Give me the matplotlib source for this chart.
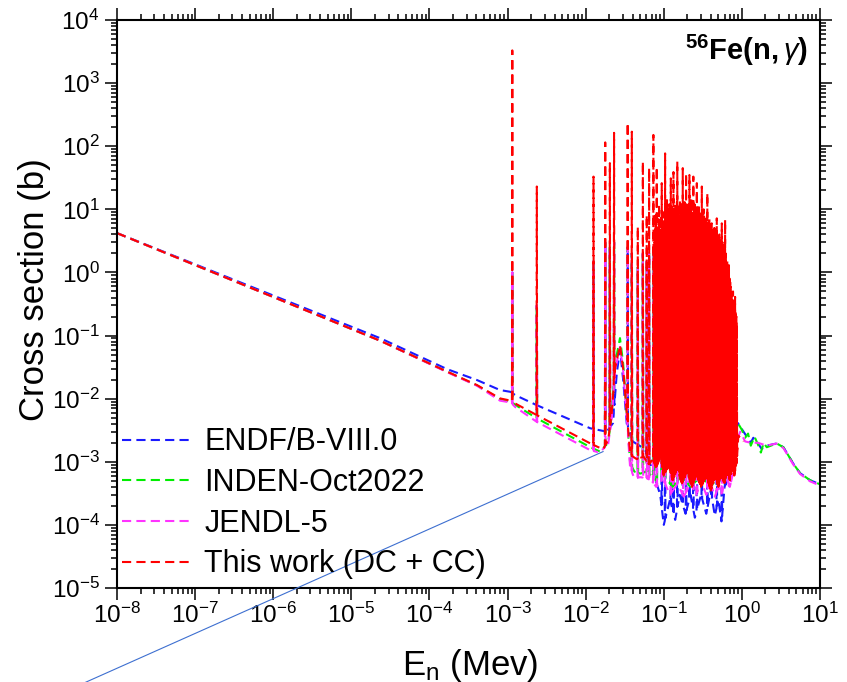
import numpy as np
import matplotlib
matplotlib.use('Agg')
import matplotlib.pyplot as plt
from matplotlib.ticker import LogLocator, NullFormatter

plt.rcParams['font.family'] = ['Liberation Sans', 'DejaVu Sans']
plt.rcParams['mathtext.fontset'] = 'custom'
plt.rcParams['mathtext.rm'] = 'Liberation Sans'
plt.rcParams['mathtext.it'] = 'Liberation Sans:italic'
plt.rcParams['mathtext.bf'] = 'Liberation Sans:bold'

# ---------------- data (energy in MeV, cross section in b) ----------------
# smooth / background parts of each evaluation
blue_bg_E = [1e-8, 2.33e-5, 1.70e-4, 4.07e-4, 8.0e-4, 1.10e-3, 1.25e-3, 2.36e-3, 1.14e-2, 1.86e-2,
             0.0224, 0.0250, 0.0275, 0.0302, 0.0336, 0.040, 0.057, 0.070, 0.090, 0.100, 0.120, 0.140,
             0.160, 0.190, 0.220, 0.250, 0.300, 0.350, 0.400, 0.450, 0.500, 0.550, 0.600, 0.700,
             0.800, 0.860, 0.890, 1.05, 1.16, 1.30, 1.40, 1.55, 1.79, 2.08, 2.79, 3.40, 4.56, 5.56,
             7.46, 10.0]
blue_bg = [4.2, 0.091, 0.0292, 0.0197, 0.0137, 0.0128, 0.0114, 0.0079, 3.4e-3, 3.0e-3,
           4.1e-3, 0.025, 0.060, 0.020, 4.0e-3, 2.1e-3, 1.6e-3, 8.0e-4, 3.0e-4, 1.0e-4, 2.5e-4, 1.2e-4,
           3.0e-4, 1.5e-4, 3.0e-4, 1.3e-4, 3.0e-4, 1.5e-4, 3.5e-4, 1.4e-4, 2.5e-4, 1.1e-4, 4.0e-4, 6.0e-4,
           1.5e-3, 3.5e-3, 4.1e-3, 3.0e-3, 2.5e-3, 2.0e-3, 2.4e-3, 2.1e-3, 1.6e-3, 1.8e-3, 1.95e-3, 1.7e-3, 9.3e-4, 6.6e-4,
           5.1e-4, 4.4e-4]

green_bg_E = [1e-8, 2.33e-5, 1.70e-4, 4.07e-4, 8.0e-4, 1.10e-3, 1.25e-3, 2.36e-3, 1.14e-2, 1.53e-2,
              0.0194, 0.0216, 0.0238, 0.0275, 0.0302, 0.0336, 0.0371, 0.042, 0.050, 0.060, 0.070,
              0.080, 0.100, 0.130, 0.170, 0.220, 0.300, 0.400, 0.500, 0.600, 0.700, 0.800, 0.860, 0.890,
              1.00, 1.10, 1.20, 1.30, 1.45, 1.60, 1.75, 1.90, 2.08, 2.79, 3.40, 4.56, 5.56, 7.46, 10.0]
green_bg = [4.2, 0.083, 0.0265, 0.0162, 0.0098, 0.0091, 0.0080, 0.0049, 1.71e-3, 1.45e-3,
            2.0e-3, 5.9e-3, 0.036, 0.091, 0.036, 5.9e-3, 9.5e-4, 7.0e-4, 6.5e-4, 7.0e-4, 6.0e-4,
            5.0e-4, 6.0e-4, 4.0e-4, 6.0e-4, 4.0e-4, 6.0e-4, 4.0e-4, 6.0e-4, 5.0e-4, 7.0e-4, 1.5e-3, 3.5e-3, 4.1e-3,
            3.2e-3, 2.4e-3, 2.8e-3, 1.8e-3, 2.5e-3, 1.9e-3, 1.4e-3, 2.0e-3, 1.7e-3, 1.95e-3, 1.7e-3, 9.3e-4, 6.6e-4, 5.1e-4, 4.4e-4]

magenta_bg_E = [1e-8, 2.33e-5, 1.70e-4, 4.07e-4, 8.0e-4, 1.10e-3, 1.25e-3, 2.36e-3, 1.14e-2, 1.50e-2,
                0.0194, 0.0216, 0.0238, 0.0275, 0.0302, 0.0336, 0.0371, 0.042, 0.050, 0.060, 0.070,
                0.080, 0.100, 0.120, 0.150, 0.180, 0.220, 0.260, 0.300, 0.350, 0.400, 0.450, 0.500, 0.550,
                0.600, 0.700, 0.800, 0.870, 0.950, 1.10, 1.30, 1.60, 2.08, 2.79, 3.40, 4.56, 5.56, 7.46, 10.0]
magenta_bg = [4.2, 0.083, 0.0262, 0.0160, 0.0093, 0.0087, 0.0074, 0.0043, 1.53e-3, 1.4e-3,
              1.9e-3, 5.0e-3, 0.028, 0.066, 0.028, 5.0e-3, 8.0e-4, 5.5e-4, 5.7e-4, 5.5e-4, 5.0e-4,
              4.0e-4, 5.0e-4, 3.0e-4, 4.5e-4, 2.8e-4, 4.5e-4, 3.0e-4, 5.0e-4, 3.0e-4, 4.5e-4, 2.8e-4, 4.0e-4, 3.0e-4,
              5.0e-4, 4.0e-4, 8.0e-4, 2.2e-3, 3.0e-3, 2.1e-3, 2.0e-3, 2.0e-3, 1.8e-3, 1.95e-3, 1.65e-3, 9.0e-4, 6.4e-4, 4.9e-4, 4.2e-4]

red_bg_E = [1e-8, 2.33e-5, 1.70e-4, 4.07e-4, 8.0e-4, 1.10e-3, 1.25e-3, 2.36e-3, 1.14e-2, 1.67e-2,
            0.0194, 0.0216, 0.0238, 0.0275, 0.0302, 0.0336, 0.0371, 0.045, 0.055, 0.065, 0.072,
            0.080, 0.090, 0.100, 0.115, 0.130, 0.150, 0.170, 0.200, 0.230, 0.260, 0.300, 0.350, 0.400,
            0.450, 0.500, 0.550, 0.600, 0.650, 0.700, 0.750, 0.800, 0.860, 0.900, 1.05]
red_bg = [4.2, 0.083, 0.0267, 0.0164, 0.0101, 0.0093, 0.0084, 0.0055, 1.96e-3, 1.57e-3,
          2.2e-3, 6.0e-3, 0.030, 0.070, 0.030, 6.0e-3, 1.3e-3, 1.1e-3, 1.2e-3, 9.0e-4, 1.1e-3,
          8.0e-4, 1.2e-3, 6.0e-4, 9.0e-4, 5.0e-4, 8.0e-4, 4.5e-4, 7.0e-4, 4.0e-4, 6.5e-4, 4.0e-4, 6.0e-4, 3.5e-4,
          5.5e-4, 4.0e-4, 6.0e-4, 4.5e-4, 7.0e-4, 5.0e-4, 8.0e-4, 6.0e-4, 1.0e-3, 2.6e-3, 2.1e-3]

# resolved resonances of "This work" (energy, peak cross section)
red_res_E = [1.15e-3, 2.37e-3, 1.26e-2, 1.78e-2, 2.04e-2, 2.31e-2, 3.45e-2, 3.90e-2, 4.65e-2, 5.40e-2,
             6.05e-2, 6.49e-2,
             0.0736, 0.0760, 0.0785, 0.0813, 0.0840, 0.0870, 0.0900, 0.0942, 0.0975, 0.1000,
             0.104, 0.107, 0.110, 0.113, 0.116, 0.119, 0.123, 0.128, 0.133, 0.137,
             0.141, 0.145, 0.149, 0.153, 0.157, 0.161, 0.166, 0.170, 0.175, 0.180,
             0.185, 0.189, 0.193, 0.198, 0.203, 0.208, 0.213, 0.219, 0.225, 0.232,
             0.239, 0.245, 0.251, 0.258, 0.265, 0.272, 0.280, 0.288, 0.297, 0.307,
             0.315, 0.324, 0.333, 0.342, 0.352, 0.361, 0.372, 0.384, 0.397, 0.411,
             0.425, 0.440, 0.455, 0.477, 0.495, 0.515, 0.534, 0.553, 0.575, 0.590,
             0.610, 0.630, 0.650, 0.671, 0.695, 0.721, 0.745, 0.770, 0.795, 0.818,
             0.840, 0.861]
red_res_peak = [3300, 23, 33, 115, 54, 163, 235, 170, 5.3, 57,
                8.1, 45,
                151, 3, 8, 47, 5, 12, 4, 26, 6, 9,
                77, 5, 14, 8, 6, 11, 31, 9, 39, 7,
                12, 6, 57, 10, 8, 14, 6, 11, 45, 9,
                13, 7, 37, 10, 6, 12, 35, 8, 15, 7,
                33, 9, 11, 6, 26, 8, 12, 5, 9, 23,
                7, 10, 5, 8, 6, 18, 5, 7, 4, 6,
                3, 5, 4, 7.2, 3, 4, 2.5, 6, 2, 3,
                6.8, 1.0, 1.5, 1.1, 0.8, 0.59, 0.3, 0.5, 0.25, 0.41,
                0.2, 0.15]

# further, smaller resonances filling the unresolved-looking forest
red_res2_E = [0.0773, 0.0798, 0.0827, 0.0855, 0.0885, 0.0921, 0.0958, 0.0988,
              0.1055, 0.1085, 0.1115, 0.1145, 0.1175, 0.121, 0.1255, 0.1305, 0.135, 0.139,
              0.143, 0.147, 0.151, 0.155, 0.159, 0.1635, 0.168, 0.1725, 0.1775, 0.1825,
              0.187, 0.191, 0.1955, 0.2005, 0.2055, 0.2105, 0.216, 0.222, 0.2285, 0.2355,
              0.242, 0.248, 0.2545, 0.2615, 0.2685, 0.276, 0.284, 0.2925, 0.302, 0.311,
              0.3195, 0.3285, 0.3375, 0.347, 0.3565, 0.3665, 0.378, 0.3905, 0.404, 0.418,
              0.4325, 0.4475, 0.466, 0.486, 0.505, 0.5245, 0.5435, 0.564, 0.5825, 0.600,
              0.620, 0.640, 0.660, 0.683, 0.708, 0.733, 0.758, 0.783, 0.806, 0.829, 0.850]
red_res2_peak = [4, 6, 3, 7, 5, 8, 4, 6,
                 7, 10, 5, 9, 12, 6, 11, 8, 10, 5,
                 9, 13, 6, 11, 7, 9, 12, 6, 10, 7,
                 11, 8, 12, 7, 10, 6, 9, 11, 6, 10,
                 7, 12, 6, 9, 7, 10, 6, 8, 6, 9,
                 5, 8, 6, 7, 5, 7, 5, 6, 4, 5,
                 4, 5, 3.5, 4, 3, 3.5, 2.5, 3, 2, 2.5,
                 2, 1.2, 0.9, 1.3, 0.7, 0.5, 0.4, 0.3, 0.35, 0.25, 0.2]

# resonances of the evaluated libraries (ENDF/B-VIII.0, INDEN, JENDL-5)
lib_res_E = [1.15e-3, 2.37e-3, 1.26e-2, 1.78e-2, 2.04e-2, 2.31e-2, 3.45e-2, 3.90e-2, 4.65e-2, 5.40e-2,
             6.05e-2, 6.49e-2, 0.0736, 0.0813, 0.0942, 0.104, 0.123, 0.133, 0.149, 0.175,
             0.193, 0.213, 0.239, 0.265, 0.307, 0.361, 0.411, 0.477, 0.553, 0.610, 0.671, 0.721]
lib_res_peak = [1.0, 0.3, 1.5, 3.0, 2.5, 3.0, 2.5, 2.0, 1.2, 2.0,
                1.5, 2.0, 2.5, 1.5, 1.2, 2.0, 1.5, 1.8, 2.0, 1.6,
                1.4, 1.5, 1.3, 1.2, 1.0, 0.9, 0.6, 0.5, 0.4, 0.3, 0.15, 0.1]

# thin reference line (1/v-type guide)
guide_E = [2.0e-9, 1.67e-2]
guide_sig = [2.2e-7, 1.45e-3]

labels = ['ENDF/B-VIII.0', 'INDEN-Oct2022', 'JENDL-5', 'This work (DC + CC)']
colors = ['#1a1aff', '#00ee00', '#ff33ff', '#ff0000']

# ---------------- build curves ----------------
HALF = 0.004  # spike half-width in decades (style)


def build(bgE, bgS, rE, rP):
    bgE = np.asarray(bgE, float)
    bgS = np.asarray(bgS, float)
    lx, ly = np.log10(bgE), np.log10(bgS)
    lr = np.log10(np.asarray(rE, float))
    pts = []
    for e, s in zip(lx, ly):
        if np.any(np.abs(e - lr) < HALF * 1.01):
            continue
        pts.append((e, s))
    for e, p in zip(lr, rP):
        if e < lx[0] or e > lx[-1]:
            continue
        for f in (-HALF, HALF):
            pts.append((e + f, np.interp(e + f, lx, ly)))
        pts.append((e, np.log10(p)))
    pts.sort()
    a = np.array(pts)
    return 10 ** a[:, 0], 10 ** a[:, 1]


series = [
    build(blue_bg_E, blue_bg, lib_res_E, lib_res_peak),
    build(green_bg_E, green_bg, lib_res_E, lib_res_peak),
    build(magenta_bg_E, magenta_bg, lib_res_E, lib_res_peak),
    build(red_bg_E, red_bg, red_res_E + red_res2_E, red_res_peak + red_res2_peak),
]

# ---------------- plot ----------------
fig = plt.figure(figsize=(8.47, 6.82), dpi=100)
ax = fig.add_axes([117 / 847, 94 / 682, 703 / 847, 568 / 682])

dash = (0, (4.4, 2.5))
handles = []
for (x, y), c, lab in zip(series, colors, labels):
    h, = ax.plot(x, y, color=c, lw=1.5, ls=dash, label=lab)
    handles.append(h)

ax.plot(guide_E, guide_sig, color='#3d6fd0', lw=0.8, clip_on=False, zorder=5)

ax.set_xscale('log')
ax.set_yscale('log')
ax.set_xlim(1e-8, 1e1)
ax.set_ylim(1e-5, 1e4)

for axis in (ax.xaxis, ax.yaxis):
    axis.set_major_locator(LogLocator(base=10, numticks=20))
    axis.set_minor_locator(LogLocator(base=10, subs=np.arange(2, 10), numticks=20))
    axis.set_minor_formatter(NullFormatter())

for sp in ax.spines.values():
    sp.set_linewidth(1.5)

ax.tick_params(which='both', direction='out', top=True, right=True,
               labeltop=False, labelright=False, width=1.1)
ax.tick_params(which='major', length=8.5, labelsize=17.5)
ax.tick_params(axis='x', which='major', pad=2)
ax.tick_params(axis='y', which='major', pad=4)
ax.tick_params(which='minor', length=4.6)

ax.set_xlabel(r'E$_{\mathdefault{n}}$ (Mev)', fontsize=25)
ax.set_ylabel('Cross section (b)', fontsize=25)
ax.xaxis.set_label_coords(0.502, -0.103)
ax.yaxis.set_label_coords(-0.094, 0.525)

ax.text(0.983, 0.977, r'$\mathbf{{}^{56}Fe(n,}\gamma\mathbf{)}$', transform=ax.transAxes,
        ha='right', va='top', fontsize=21)

leg = ax.legend(handles=handles, loc='upper left', bbox_to_anchor=(0.007, 0.283),
                frameon=False, fontsize=22, handlelength=2.2, handletextpad=0.5,
                labelspacing=0.35, borderpad=0, borderaxespad=0)

fig.savefig('out.png', dpi=100)
